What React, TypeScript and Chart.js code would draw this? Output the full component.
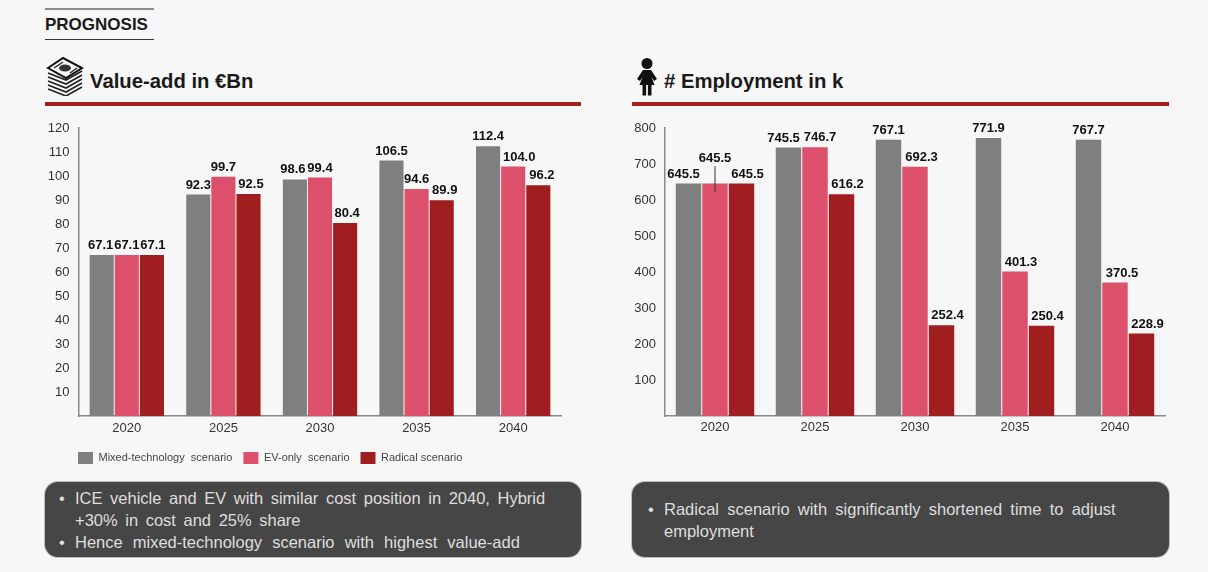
import React, { useEffect, useRef } from "react";
import { Chart, registerables } from "chart.js";

Chart.register(...registerables);

const years = ["2020", "2025", "2030", "2035", "2040"];
const seriesNames = ["Mixed-technology  scenario", "EV-only  scenario", "Radical scenario"];
const seriesColors = ["#7f7f7f", "#dc506b", "#a01e1f"];

const valueMixed = [67.1, 92.3, 98.6, 106.5, 112.4];
const valueEv = [67.1, 99.7, 99.4, 94.6, 104.0];
const valueRadical = [67.1, 92.5, 80.4, 89.9, 96.2];

const jobsMixed = [645.5, 745.5, 767.1, 771.9, 767.7];
const jobsEv = [645.5, 746.7, 692.3, 401.3, 370.5];
const jobsRadical = [645.5, 616.2, 252.4, 250.4, 228.9];

const valueTicks = [10, 20, 30, 40, 50, 60, 70, 80, 90, 100, 110, 120];
const jobsTicks = [100, 200, 300, 400, 500, 600, 700, 800];

const leftBullets = [
  "ICE vehicle and EV with similar cost position in 2040, Hybrid +30% in cost and 25% share",
  "Hence mixed-technology scenario with highest value-add",
];
const rightBullets = ["Radical scenario with significantly shortened time to adjust employment"];

const FONT = "'Liberation Sans', Arial, sans-serif";

type Nudges = Record<string, [number, number, boolean?]>;

const barLabels = {
  id: "barLabels",
  afterDatasetsDraw(chart: any, _a: any, opts: any) {
    const ctx = chart.ctx;
    const nudges: Nudges = opts.nudges || {};
    ctx.save();
    ctx.font = `bold 13px ${FONT}`;
    ctx.fillStyle = "#111";
    ctx.textAlign = "center";
    ctx.textBaseline = "middle";
    chart.data.datasets.forEach((ds: any, d: number) => {
      chart.getDatasetMeta(d).data.forEach((bar: any, i: number) => {
        const [dx, dy, leader] = nudges[`${d}:${i}`] || [0, 0, false];
        const y = bar.y - 9.5 + dy;
        if (leader) {
          ctx.strokeStyle = "#333";
          ctx.lineWidth = 1;
          ctx.beginPath();
          ctx.moveTo(bar.x, y + 8);
          ctx.lineTo(bar.x, bar.y + 8);
          ctx.stroke();
        }
        ctx.fillText(Number(ds.data[i]).toFixed(1), bar.x + dx, y);
      });
    });
    ctx.restore();
  },
};

const legendPlace = {
  id: "legendPlace",
  afterLayout(chart: any, _a: any, opts: any) {
    if (chart.legend && opts.dx !== undefined) {
      chart.legend.left += opts.dx;
      chart.legend.top += opts.dy;
    }
  },
};

function BarChart(props: {
  series: number[][];
  ticks: number[];
  max: number;
  axisWidth: number;
  paddingRight: number;
  xHeight: number;
  category: number;
  showLegend: boolean;
  nudges: Nudges;
  style: React.CSSProperties;
  width: number;
  height: number;
}) {
  const ref = useRef<HTMLCanvasElement | null>(null);
  useEffect(() => {
    if (!ref.current) return;
    const chart = new Chart(ref.current, {
      type: "bar",
      data: {
        labels: years,
        datasets: props.series.map((data, i) => ({
          label: seriesNames[i],
          data,
          backgroundColor: seriesColors[i],
          barPercentage: 0.96,
          categoryPercentage: props.category,
        })),
      },
      plugins: [barLabels, legendPlace],
      options: {
        animation: false,
        responsive: false,
        devicePixelRatio: 1,
        layout: { padding: { top: 18, right: props.paddingRight, left: 0, bottom: 0 } },
        scales: {
          x: {
            grid: { display: false, drawTicks: false },
            border: { color: "#8a8a8a", width: 1.5 },
            ticks: { color: "#333", font: { family: FONT, size: 13 }, padding: 4, maxRotation: 0 },
            afterFit: (s: any) => { s.height = props.xHeight; },
          },
          y: {
            min: 0,
            max: props.max,
            afterBuildTicks: (s: any) => { s.ticks = props.ticks.map((value) => ({ value })); },
            grid: { display: false, drawTicks: false },
            border: { color: "#8a8a8a", width: 1.5 },
            ticks: { color: "#333", font: { family: FONT, size: 13 }, padding: 9 },
            afterFit: (s: any) => { s.width = props.axisWidth; },
          },
        },
        plugins: {
          title: { display: false },
          tooltip: { enabled: false },
          legend: {
            display: props.showLegend,
            position: "bottom",
            align: "start",
            labels: {
              boxWidth: 15,
              boxHeight: 12,
              padding: 11,
              color: "#444",
              font: { family: FONT, size: 11 },
            },
          },
          barLabels: { nudges: props.nudges },
          legendPlace: props.showLegend ? { dx: 27, dy: 4 } : {},
        } as any,
      },
    });
    return () => chart.destroy();
  }, []);
  return <canvas ref={ref} width={props.width} height={props.height} style={{ position: "absolute", ...props.style }} />;
}

function MoneyIcon() {
  const layers = [0, 4, 8, 12, 16];
  return (
    <svg width="38" height="40" viewBox="0 0 38 40" style={{ position: "absolute", left: 46, top: 56 }}>
      {layers.map((o) => (
        <path key={o} d={`M2 ${17 + o} L20 ${24 + o} L36 ${15 + o}`} fill="none" stroke="#222" strokeWidth="1.6" />
      ))}
      <path d="M2 12 L17 2 L36 12 L20 22 Z" fill="#f7f7f7" stroke="#111" strokeWidth="2" />
      <ellipse cx="19" cy="12" rx="6" ry="3.5" fill="#333" />
      <path d="M8 12 L17 6 M24 17 L31 12" stroke="#222" strokeWidth="1.4" />
    </svg>
  );
}

function PersonIcon() {
  return (
    <svg width="22" height="38" viewBox="0 0 22 38" style={{ position: "absolute", left: 636, top: 58 }}>
      <circle cx="11" cy="5.5" r="5.5" fill="#111" />
      <path d="M7 12 H15 L21 21 L18 23 L15.5 19 L18.5 27 H3.5 L6.5 19 L4 23 L1 21 Z" fill="#111" />
      <rect x="6.5" y="26" width="3.6" height="11.5" fill="#111" />
      <rect x="11.9" y="26" width="3.6" height="11.5" fill="#111" />
    </svg>
  );
}

function Rule(p: { left: number; top: number; width: number; height: number; color: string }) {
  return <div style={{ position: "absolute", left: p.left, top: p.top, width: p.width, height: p.height, background: p.color }} />;
}

function Heading(p: { left: number; text: string }) {
  return (
    <div style={{ position: "absolute", left: p.left, top: 68, fontFamily: FONT, fontWeight: 700, fontSize: 20.3, lineHeight: "26px", color: "#1a1a1a", whiteSpace: "nowrap" }}>
      {p.text}
    </div>
  );
}

function Panel(p: { left: number; width: number; items: string[]; paddingTop: number; paddingLeft: number; spacing: number[] }) {
  return (
    <div
      style={{
        position: "absolute",
        left: p.left,
        top: 482,
        width: p.width,
        height: 75,
        boxSizing: "border-box",
        background: "#464646",
        borderRadius: 13,
        boxShadow: "0 0 0 1px #bdbdbd",
        color: "#dedede",
        fontFamily: FONT,
        fontSize: 16.5,
        lineHeight: "22px",
        padding: `${p.paddingTop}px 20px 0 ${p.paddingLeft}px`,
      }}
    >
      {p.items.map((t, i) => (
        <div key={t} style={{ position: "relative", wordSpacing: p.spacing[i] }}>
          <span style={{ position: "absolute", left: -16 }}>•</span>
          {t}
        </div>
      ))}
    </div>
  );
}

export default function App() {
  useEffect(() => {
    document.body.style.margin = "0";
    document.body.style.background = "#f7f7f7";
  }, []);
  return (
    <div style={{ position: "relative", width: 1208, height: 572, overflow: "hidden", background: "#f7f7f7", filter: "blur(0.35px)" }}>
      <Rule left={45} top={8} width={109} height={2} color="#8a8a8a" />
      <div style={{ position: "absolute", left: 45, top: 15, fontFamily: FONT, fontWeight: 700, fontSize: 17, lineHeight: "20px", color: "#1a1a1a" }}>PROGNOSIS</div>
      <Rule left={45} top={38.5} width={109} height={1.5} color="#333" />

      <MoneyIcon />
      <Heading left={90} text="Value-add in €Bn" />
      <Rule left={45} top={102} width={536} height={4} color="#a5201f" />

      <PersonIcon />
      <Heading left={664} text="# Employment in k" />
      <Rule left={632} top={102} width={537} height={4} color="#a5201f" />

      <BarChart
        series={[valueMixed, valueEv, valueRadical]}
        ticks={valueTicks}
        max={120}
        axisWidth={38.5}
        paddingRight={8.5}
        xHeight={20.8}
        category={0.78}
        showLegend={true}
        nudges={{
          "0:0": [-1, 0],
          "2:0": [1, 0],
          "2:1": [2.5, 0],
          "0:2": [-2, 0],
          "2:2": [2, 0],
          "2:3": [3, 0],
          "1:4": [6, 0],
          "2:4": [3.5, 0],
        }}
        width={530}
        height={360}
        style={{ left: 40, top: 110 }}
      />
      <BarChart
        series={[jobsMixed, jobsEv, jobsRadical]}
        ticks={jobsTicks}
        max={800}
        axisWidth={40}
        paddingRight={5}
        xHeight={26}
        category={0.795}
        showLegend={false}
        nudges={{
          "0:0": [-5, 0],
          "1:0": [0, -16, true],
          "2:0": [6, 0],
          "0:1": [-5, 0],
          "1:1": [5, 0],
          "2:1": [6, 0],
          "1:2": [6.5, 0],
          "2:2": [6, 0],
          "1:3": [6, 0],
          "2:3": [6, 0],
          "1:4": [7, 0],
          "2:4": [6, 0],
        }}
        width={545}
        height={332}
        style={{ left: 625, top: 110 }}
      />

      <Panel left={45} width={536} items={leftBullets} paddingTop={5} paddingLeft={30} spacing={[3, 5.5]} />
      <Panel left={632} width={537} items={rightBullets} paddingTop={16} paddingLeft={32} spacing={[3.6]} />
    </div>
  );
}
